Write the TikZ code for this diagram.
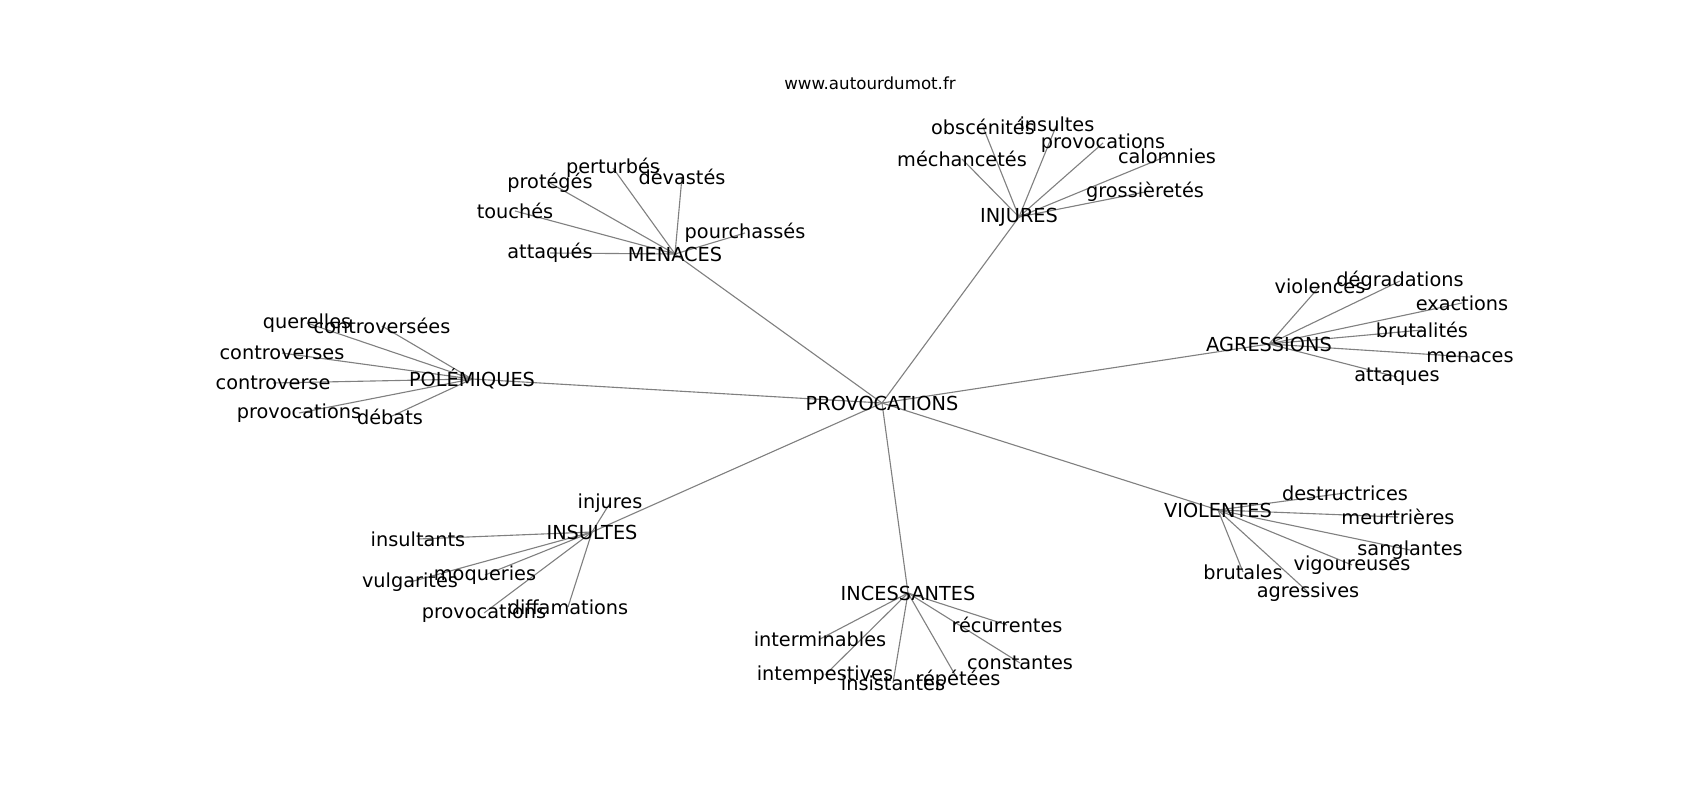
\documentclass[tikz,border=0pt]{standalone}
\usepackage{fontspec}
\setmainfont{DejaVu Sans}
\usetikzlibrary{backgrounds}
\tikzset{
  lbl/.style={inner sep=0pt, font=\fontsize{13.9}{15}\selectfont, text=black},
  ttl/.style={inner sep=0pt, font=\fontsize{12}{13}\selectfont, text=black},
  edge/.style={draw=gray, line width=0.8pt}
}
\begin{document}
\begin{tikzpicture}[x=0.72pt,y=-0.72pt]
\useasboundingbox (0,0) rectangle (1700,800);
\node[ttl] (title) at (870,83) {www.autourdumot.fr};
% center
\node[lbl] (c) at (882,403) {PROVOCATIONS};
% MENACES
\node[lbl] (men) at (675,254) {MENACES};
\node[lbl] (men1) at (550,253) {attaqués};
\node[lbl] (men2) at (515,211) {touchés};
\node[lbl] (men3) at (550,183) {protégés};
\node[lbl] (men4) at (613,168) {perturbés};
\node[lbl] (men5) at (682,177) {dévastés};
\node[lbl] (men6) at (745,233) {pourchassés};
% INJURES
\node[lbl] (inj) at (1019,217) {INJURES};
\node[lbl] (inj1) at (962,159) {méchancetés};
\node[lbl] (inj2) at (983,127) {obscénités};
\node[lbl] (inj3) at (1057,124) {insultes};
\node[lbl] (inj4) at (1103,143) {provocations};
\node[lbl] (inj5) at (1167,156) {calomnies};
\node[lbl] (inj6) at (1145,192) {grossièretés};
% AGRESSIONS
\node[lbl] (agr) at (1269,344) {AGRESSIONS};
\node[lbl] (agr1) at (1320,286) {violences};
\node[lbl] (agr2) at (1400,281) {dégradations};
\node[lbl] (agr3) at (1462,303) {exactions};
\node[lbl] (agr4) at (1422,330) {brutalités};
\node[lbl] (agr5) at (1470,357) {menaces};
\node[lbl] (agr6) at (1397,377) {attaques};
% VIOLENTES
\node[lbl] (vio) at (1218,510) {VIOLENTES};
\node[lbl] (vio1) at (1345,493) {destructrices};
\node[lbl] (vio2) at (1398,517) {meurtrières};
\node[lbl] (vio3) at (1410,550) {sanglantes};
\node[lbl] (vio4) at (1352,565) {vigoureuses};
\node[lbl] (vio5) at (1243,572) {brutales};
\node[lbl] (vio6) at (1308,592) {agressives};
% INCESSANTES
\node[lbl] (inc) at (908,593) {INCESSANTES};
\node[lbl] (inc1) at (820,639) {interminables};
\node[lbl] (inc2) at (825,675) {intempestives};
\node[lbl] (inc3) at (893,683) {insistantes};
\node[lbl] (inc4) at (958,680) {répétées};
\node[lbl] (inc5) at (1020,663) {constantes};
\node[lbl] (inc6) at (1007,625) {récurrentes};
% INSULTES
\node[lbl] (ins) at (592,532) {INSULTES};
\node[lbl] (ins1) at (610,503) {injures};
\node[lbl] (ins2) at (418,539) {insultants};
\node[lbl] (ins3) at (410,582) {vulgarités};
\node[lbl] (ins4) at (485,575) {moqueries};
\node[lbl] (ins5) at (484,613) {provocations};
\node[lbl] (ins6) at (568,607) {diffamations};
% POLEMIQUES
\node[lbl] (pol) at (472,379) {POLÉMIQUES};
\node[lbl] (pol1) at (307,323) {querelles};
\node[lbl] (pol2) at (382,326) {controversées};
\node[lbl] (pol3) at (282,353) {controverses};
\node[lbl] (pol4) at (273,383) {controverse};
\node[lbl] (pol5) at (299,413) {provocations};
\node[lbl] (pol6) at (390,417) {débats};
\begin{pgfonlayer}{background}
\foreach \h in {men,inj,agr,vio,inc,ins,pol}{
  \draw[edge] (c.center) -- (\h.center);
  \foreach \i in {1,...,6}{
    \draw[edge] (\h.center) -- (\h\i.center);
  }
}
\end{pgfonlayer}
\end{tikzpicture}
\end{document}
